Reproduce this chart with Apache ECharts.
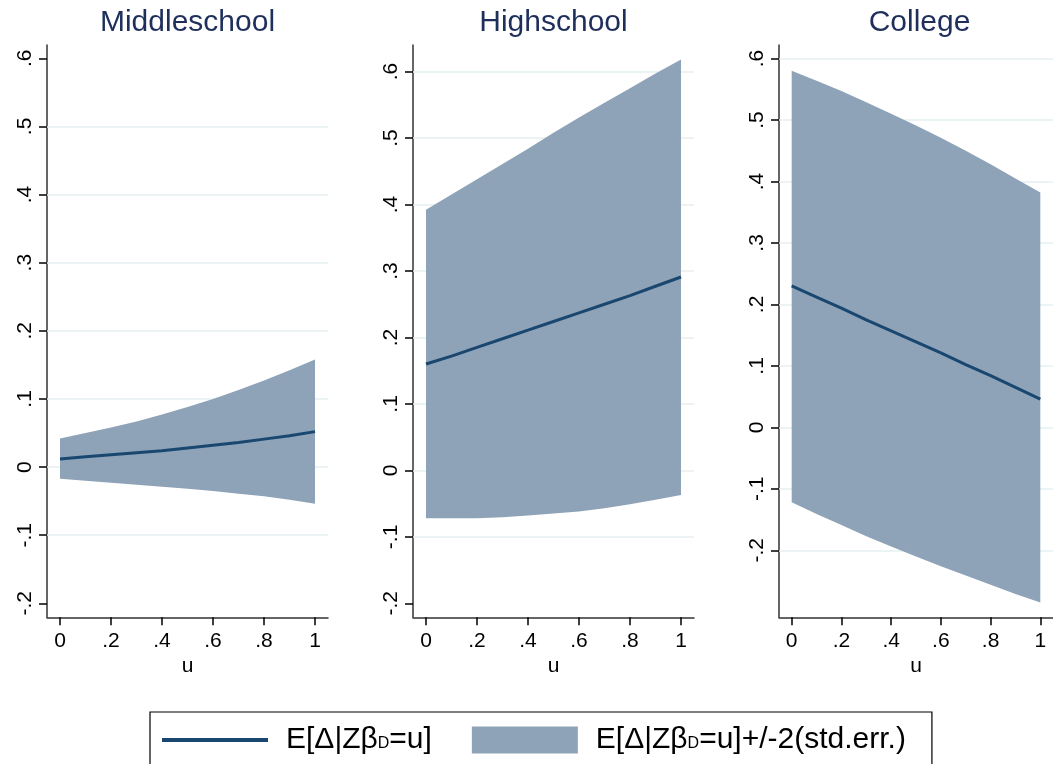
<!DOCTYPE html>
<html><head><meta charset="utf-8">
<script src="https://cdn.jsdelivr.net/npm/echarts@6/dist/echarts.min.js"></script>
<style>html,body{margin:0;padding:0;background:#fff}#c{width:1053px;height:764px}</style>
</head><body><div id="c"></div>
<script>
// ---- data ----
const panelTitles = ['Middleschool', 'Highschool', 'College'];
const u = [0, 0.1, 0.2, 0.3, 0.4, 0.5, 0.6, 0.7, 0.8, 0.9, 1];

const meanMiddle  = [0.012, 0.015, 0.018, 0.021, 0.024, 0.028, 0.032, 0.036, 0.041, 0.046, 0.052];
const upperMiddle = [0.042, 0.050, 0.058, 0.067, 0.077, 0.088, 0.100, 0.113, 0.127, 0.142, 0.158];
const lowerMiddle = [-0.017, -0.020, -0.023, -0.026, -0.029, -0.032, -0.035, -0.039, -0.043, -0.048, -0.054];

const meanHigh  = [0.160, 0.172, 0.185, 0.198, 0.211, 0.224, 0.237, 0.250, 0.263, 0.277, 0.291];
const upperHigh = [0.392, 0.415, 0.438, 0.461, 0.484, 0.508, 0.531, 0.553, 0.575, 0.597, 0.618];
const lowerHigh = [-0.072, -0.072, -0.072, -0.0705, -0.068, -0.065, -0.062, -0.057, -0.051, -0.044, -0.037];

const meanCollege  = [0.230, 0.212, 0.194, 0.175, 0.157, 0.139, 0.121, 0.102, 0.084, 0.065, 0.046];
const upperCollege = [0.580, 0.564, 0.547, 0.529, 0.510, 0.491, 0.471, 0.450, 0.428, 0.405, 0.382];
const lowerCollege = [-0.122, -0.141, -0.159, -0.177, -0.194, -0.210, -0.226, -0.241, -0.256, -0.271, -0.285];

const xTickValues = [0, 0.2, 0.4, 0.6, 0.8, 1];
const xTickLabels = ['0', '.2', '.4', '.6', '.8', '1'];
const yTickValues = [-0.2, -0.1, 0, 0.1, 0.2, 0.3, 0.4, 0.5, 0.6];
const yTickLabels = ['-.2', '-.1', '0', '.1', '.2', '.3', '.4', '.5', '.6'];
const gridLinesMiddle  = [-0.1, 0, 0.1, 0.2, 0.3, 0.4, 0.5];
const gridLinesHigh    = [-0.1, 0, 0.1, 0.2, 0.3, 0.4, 0.5, 0.6];
const gridLinesCollege = [-0.2, -0.1, 0, 0.1, 0.2, 0.3, 0.4, 0.5, 0.6];
const xAxisName = 'u';
const legendNames = ['E[Δ|ZβD=u]', 'E[Δ|ZβD=u]+/-2(std.err.)'];

// ---- layout / style ----
const panelData = [
  {mean: meanMiddle, upper: upperMiddle, lower: lowerMiddle, grid: gridLinesMiddle},
  {mean: meanHigh, upper: upperHigh, lower: lowerHigh, grid: gridLinesHigh},
  {mean: meanCollege, upper: upperCollege, lower: lowerCollege, grid: gridLinesCollege}
];
const gridLefts = [47, 413, 779];
const gridWidth = 281, gridTop = 45, gridHeight = 572.3;
const yRanges = [[-0.2205, 0.6195], [-0.221, 0.640], [-0.309, 0.622]];
const xRange = [-0.051, 1.051];
const lineColor = '#1a476f';
const bandColor = '#8ea3b8';
const gridColor = '#e6eff2';
const axisColor = '#333';
const baseFont = "'Liberation Sans', Arial, sans-serif";

const pairs = (xs, ys) => xs.map((x, i) => [x, ys[i]]);

const grids = [], xAxes = [], yAxes = [], titles = [], series = [];
panelData.forEach((p, i) => {
  grids.push({left: gridLefts[i], top: gridTop, width: gridWidth, height: gridHeight, containLabel: false});
  titles.push({
    text: panelTitles[i], left: gridLefts[i] + gridWidth / 2, top: 8, textAlign: 'center', padding: 0,
    textStyle: {fontFamily: baseFont, fontSize: 30, fontWeight: 'normal', color: '#1f2f5c'}
  });
  xAxes.push({
    type: 'value', gridIndex: i, min: xRange[0], max: xRange[1],
    name: xAxisName, nameLocation: 'middle', nameGap: 31,
    nameTextStyle: {fontFamily: baseFont, fontSize: 21, color: '#000'},
    axisLine: {show: true, onZero: false, lineStyle: {color: axisColor, width: 1.5}},
    axisTick: {show: true, length: 8, customValues: xTickValues, lineStyle: {color: '#000', width: 1.5}},
    axisLabel: {customValues: xTickValues, margin: 13, fontFamily: baseFont, fontSize: 21, color: '#000',
      formatter: v => xTickLabels[xTickValues.findIndex(t => Math.abs(t - v) < 1e-9)]},
    splitLine: {show: false}
  });
  yAxes.push({
    type: 'value', gridIndex: i, min: yRanges[i][0], max: yRanges[i][1],
    axisLine: {show: true, onZero: false, lineStyle: {color: axisColor, width: 1.5}},
    axisTick: {show: true, length: 8, customValues: yTickValues, lineStyle: {color: '#000', width: 1.5}},
    axisLabel: {customValues: yTickValues, rotate: 90, margin: 11, fontFamily: baseFont, fontSize: 21, color: '#000',
      formatter: v => yTickLabels[yTickValues.findIndex(t => Math.abs(t - v) < 1e-9)]},
    splitLine: {show: false}
  });
  series.push({
    type: 'custom', name: legendNames[1], xAxisIndex: i, yAxisIndex: i, silent: true,
    data: u.map((x, k) => [x, p.lower[k], p.upper[k]]),
    encode: {x: 0, y: [1, 2]},
    itemStyle: {color: bandColor},
    z: 2,
    renderItem: function (params, api) {
      if (params.dataIndex !== 0) return null;
      const top = u.map((x, k) => api.coord([x, p.upper[k]]));
      const bot = u.map((x, k) => api.coord([x, p.lower[k]])).reverse();
      return {type: 'polygon', shape: {points: top.concat(bot)}, style: {fill: bandColor}};
    }
  });
  series.push({
    type: 'line', name: legendNames[0], xAxisIndex: i, yAxisIndex: i,
    data: pairs(u, p.mean), symbol: 'none', showSymbol: false, silent: true,
    color: lineColor, lineStyle: {color: lineColor, width: 3}, z: 3,
    markLine: {
      silent: true, symbol: 'none', z: 1, animation: false,
      label: {show: false},
      lineStyle: {color: gridColor, width: 1.5, type: 'solid'},
      data: p.grid.map(v => ({yAxis: v}))
    }
  });
});

const chart = echarts.init(document.getElementById('c'), null, {renderer: 'canvas'});
chart.setOption({
  backgroundColor: '#fff',
  animation: false,
  title: titles,
  grid: grids,
  xAxis: xAxes,
  yAxis: yAxes,
  legend: {
    data: [{name: legendNames[0], icon: 'path://M0,0H100V4H0Z'}, {name: legendNames[1], icon: 'rect'}],
    left: 150, top: 712, orient: 'horizontal',
    padding: [13, 26, 13, 12],
    borderColor: '#000', borderWidth: 1.2, borderRadius: 0,
    itemWidth: 106, itemHeight: 27, itemGap: 40,
    symbolKeepAspect: true,
    itemStyle: {borderWidth: 0},
    lineStyle: {width: 4},
    selectedMode: false,
    formatter: name => '{m|' + name.replace('βD', 'β}{s|D}{m|') + '}',
    textStyle: {
      padding: [0, 0, 0, 13], color: '#000',
      rich: {
        m: {fontFamily: baseFont, fontSize: 30, color: '#000', lineHeight: 34},
        s: {fontFamily: baseFont, fontSize: 16, color: '#000', lineHeight: 34, verticalAlign: 'bottom', padding: [0, 0, 5, 0]}
      }
    }
  },
  series: series
});
</script></body></html>
